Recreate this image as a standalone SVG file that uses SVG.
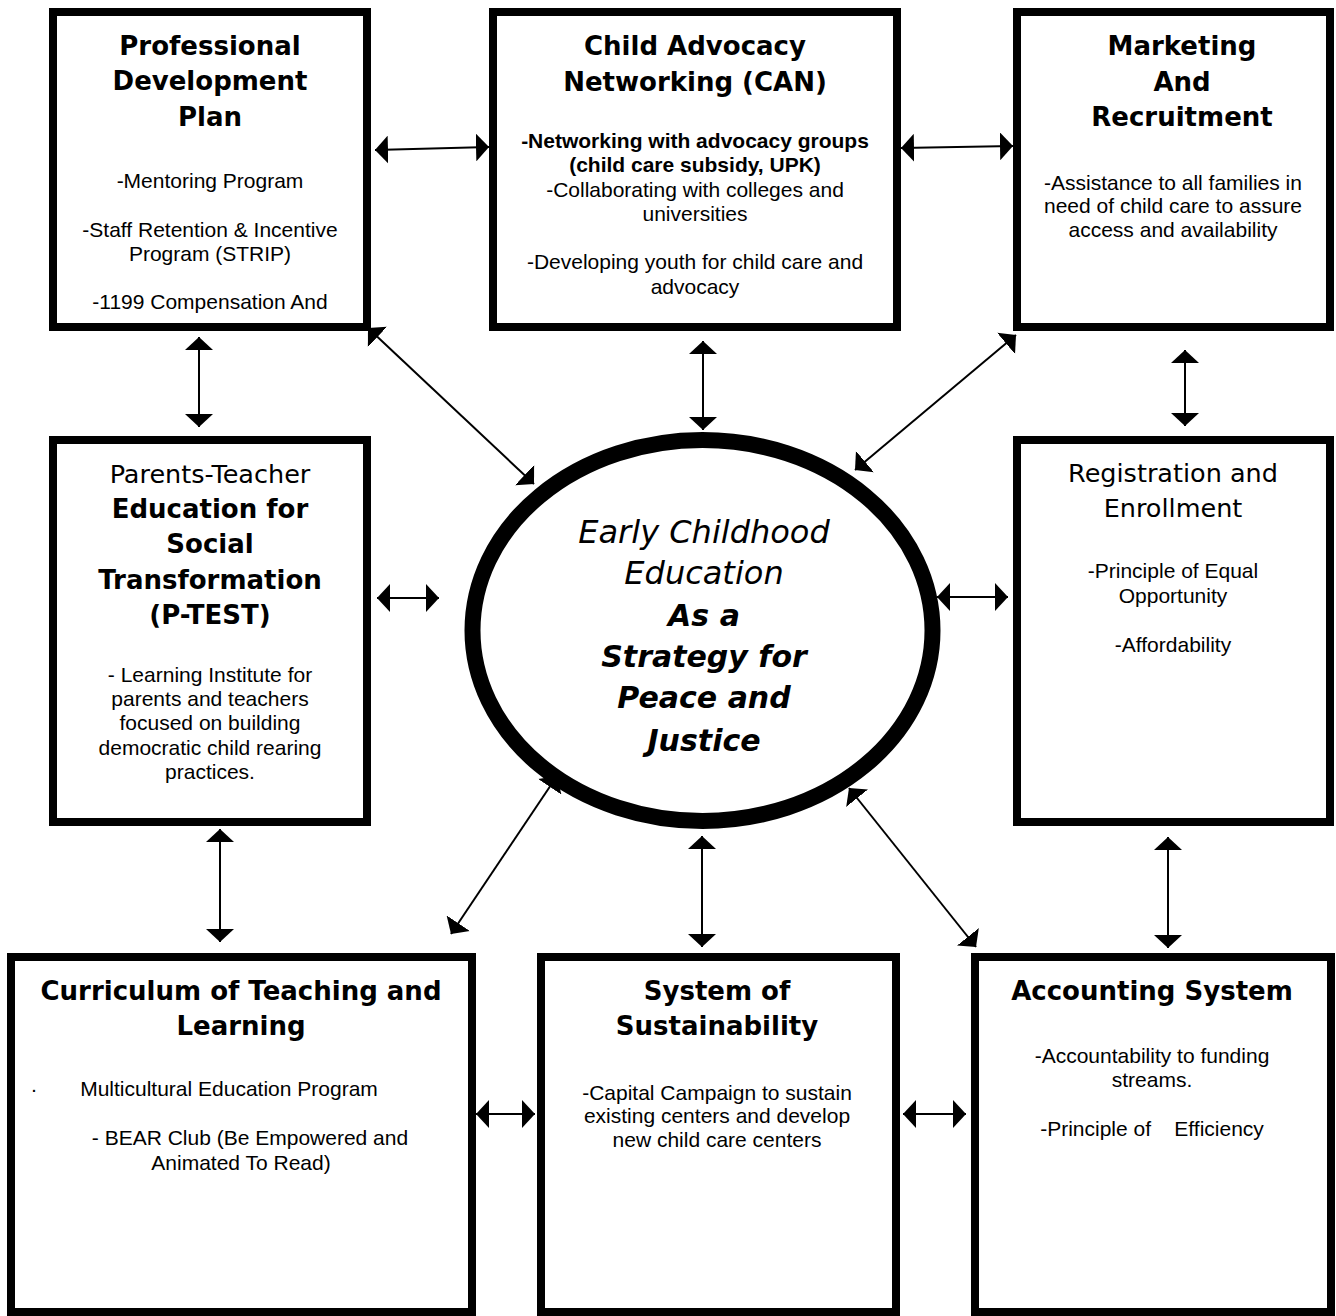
<svg xmlns="http://www.w3.org/2000/svg" width="1336" height="1316" viewBox="0 0 1336 1316">
<style>
  .box { fill: #fff; stroke: #000; stroke-width: 8; }
  .hd { font-family: "DejaVu Sans", Verdana, sans-serif; font-weight: bold; font-size: 26px; fill: #000; text-anchor: middle; }
  .hr { font-family: "DejaVu Sans", Verdana, sans-serif; font-size: 25.5px; fill: #000; text-anchor: middle; }
  .bd { font-family: "Liberation Sans", Arial, sans-serif; font-size: 21px; fill: #000; text-anchor: middle; }
  .bb { font-family: "Liberation Sans", Arial, sans-serif; font-size: 21px; font-weight: bold; fill: #000; text-anchor: middle; }
  .ei { font-family: "DejaVu Sans", Verdana, sans-serif; font-style: italic; font-size: 32px; fill: #000; text-anchor: middle; }
  .eb { font-family: "DejaVu Sans", Verdana, sans-serif; font-style: italic; font-weight: bold; font-size: 30px; fill: #000; text-anchor: middle; }
  .cn { stroke: #000; stroke-width: 2; fill: none; marker-start: url(#ah); marker-end: url(#ah); }
</style>
<defs>
  <marker id="ah" viewBox="0 0 13 28" refX="13" refY="14" markerWidth="13" markerHeight="28" markerUnits="userSpaceOnUse" orient="auto-start-reverse">
    <path d="M0,0 L13,14 L0,28 z" fill="#000"/>
  </marker>
</defs>
<rect width="1336" height="1316" fill="#fff"/>

<g id="node-professional-development">
  <rect class="box" x="53" y="12" width="314" height="315"/>
  <text class="hd" x="210" y="55">Professional</text>
  <text class="hd" x="210" y="90">Development</text>
  <text class="hd" x="210" y="126">Plan</text>
  <text class="bd" x="210" y="188">-Mentoring Program</text>
  <text class="bd" x="210" y="237">-Staff Retention &amp; Incentive</text>
  <text class="bd" x="210" y="261">Program (STRIP)</text>
  <text class="bd" x="210" y="309">-1199 Compensation And</text>
</g>

<g id="node-can">
  <rect class="box" x="493" y="12" width="404" height="315"/>
  <text class="hd" x="695" y="55">Child Advocacy</text>
  <text class="hd" x="695" y="91">Networking (CAN)</text>
  <text class="bb" x="695" y="148">-Networking with advocacy groups</text>
  <text class="bb" x="695" y="172">(child care subsidy, UPK)</text>
  <text class="bd" x="695" y="197">-Collaborating with colleges and</text>
  <text class="bd" x="695" y="221">universities</text>
  <text class="bd" x="695" y="269">-Developing youth for child care and</text>
  <text class="bd" x="695" y="294">advocacy</text>
</g>

<g id="node-marketing">
  <rect class="box" x="1017" y="12" width="313" height="315"/>
  <text class="hd" x="1182" y="55">Marketing</text>
  <text class="hd" x="1182" y="91">And</text>
  <text class="hd" x="1182" y="126">Recruitment</text>
  <text class="bd" x="1173" y="190">-Assistance to all families in</text>
  <text class="bd" x="1173" y="213">need of child care to assure</text>
  <text class="bd" x="1173" y="237">access and availability</text>
</g>

<g id="node-ptest">
  <rect class="box" x="53" y="440" width="314" height="382"/>
  <text class="hr" x="210" y="483">Parents-Teacher</text>
  <text class="hd" x="210" y="518">Education for</text>
  <text class="hd" x="210" y="553">Social</text>
  <text class="hd" x="210" y="589">Transformation</text>
  <text class="hd" x="210" y="624">(P-TEST)</text>
  <text class="bd" x="210" y="682">- Learning Institute for</text>
  <text class="bd" x="210" y="706">parents and teachers</text>
  <text class="bd" x="210" y="730">focused on building</text>
  <text class="bd" x="210" y="755">democratic child rearing</text>
  <text class="bd" x="210" y="779">practices.</text>
</g>

<g id="node-center">
  <ellipse cx="702.5" cy="630.5" rx="230" ry="190.5" fill="#fff" stroke="#000" stroke-width="16"/>
  <text class="ei" x="704" y="543">Early Childhood</text>
  <text class="ei" x="704" y="584">Education</text>
  <text class="eb" x="704" y="626">As a</text>
  <text class="eb" x="704" y="667">Strategy for</text>
  <text class="eb" x="704" y="708">Peace and</text>
  <text class="eb" x="704" y="751">Justice</text>
</g>

<g id="node-registration">
  <rect class="box" x="1017" y="440" width="313" height="382"/>
  <text class="hr" x="1173" y="482">Registration and</text>
  <text class="hr" x="1173" y="517">Enrollment</text>
  <text class="bd" x="1173" y="578">-Principle of Equal</text>
  <text class="bd" x="1173" y="603">Opportunity</text>
  <text class="bd" x="1173" y="652">-Affordability</text>
</g>

<g id="node-curriculum">
  <rect class="box" x="11" y="957" width="461" height="355"/>
  <text class="hd" x="241" y="1000">Curriculum of Teaching and</text>
  <text class="hd" x="241" y="1035">Learning</text>
  <text class="bd" x="34" y="1096">·</text>
  <text class="bd" x="229" y="1096">Multicultural Education Program</text>
  <text class="bd" x="250" y="1145">- BEAR Club (Be Empowered and</text>
  <text class="bd" x="241" y="1170">Animated To Read)</text>
</g>

<g id="node-sustainability">
  <rect class="box" x="541" y="957" width="355" height="355"/>
  <text class="hd" x="717" y="1000">System of</text>
  <text class="hd" x="717" y="1035">Sustainability</text>
  <text class="bd" x="717" y="1100">-Capital Campaign to sustain</text>
  <text class="bd" x="717" y="1123">existing centers and develop</text>
  <text class="bd" x="717" y="1147">new child care centers</text>
</g>

<g id="node-accounting">
  <rect class="box" x="975" y="957" width="356" height="355"/>
  <text class="hd" x="1152" y="1000">Accounting System</text>
  <text class="bd" x="1152" y="1063">-Accountability to funding</text>
  <text class="bd" x="1152" y="1087">streams.</text>
  <text class="bd" x="1152" y="1136" style="white-space:pre" xml:space="preserve">-Principle of    Efficiency</text>
</g>

<g id="connectors">
  <line class="cn" x1="375" y1="150" x2="489" y2="147"/>
  <line class="cn" x1="901" y1="148" x2="1013" y2="146"/>
  <line class="cn" x1="199" y1="337" x2="199" y2="427"/>
  <line class="cn" x1="703" y1="341" x2="703" y2="430"/>
  <line class="cn" x1="1185" y1="350" x2="1185" y2="426"/>
  <line class="cn" x1="368" y1="328" x2="534" y2="484"/>
  <line class="cn" x1="1016" y1="335" x2="855" y2="470"/>
  <line class="cn" x1="377" y1="598" x2="439" y2="598"/>
  <line class="cn" x1="937" y1="597" x2="1008" y2="597"/>
  <line class="cn" x1="220" y1="829" x2="220" y2="942"/>
  <line class="cn" x1="702" y1="836" x2="702" y2="947"/>
  <line class="cn" x1="1168" y1="837" x2="1168" y2="948"/>
  <line class="cn" x1="451" y1="934" x2="557" y2="776"/>
  <line class="cn" x1="849" y1="788" x2="976" y2="947"/>
  <line class="cn" x1="476" y1="1114" x2="535" y2="1114"/>
  <line class="cn" x1="903" y1="1114" x2="966" y2="1114"/>
</g>
</svg>
